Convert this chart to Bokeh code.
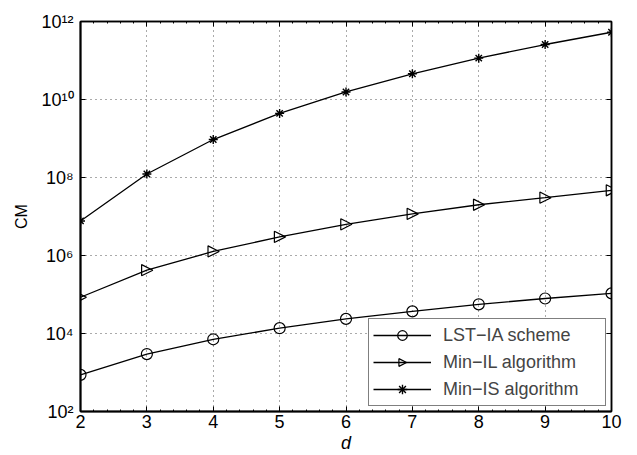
from bokeh.plotting import figure
from bokeh.models import (Range1d, FixedTicker, SingleIntervalTicker, CustomJSTickFormatter,
                          LinearAxis, LogAxis, CustomJS)
from bokeh.core.properties import value
from bokeh.embed import file_html
from bokeh.resources import INLINE

# ---- data ----
d = [2, 3, 4, 5, 6, 7, 8, 9, 10]
lst_ia = [870, 2970, 7100, 13700, 23700, 37000, 56000, 79000, 107000]
min_il = [8.5e4, 4.2e5, 1.27e6, 3.0e6, 6.3e6, 1.17e7, 2.0e7, 3.04e7, 4.7e7]
min_is = [7.7e6, 1.23e8, 9.4e8, 4.4e9, 1.56e10, 4.56e10, 1.15e11, 2.57e11, 5.3e11]
y_ticks = [1e2, 1e4, 1e6, 1e8, 1e10, 1e12]
labels = ["LST\u2212IA scheme", "Min\u2212IL algorithm", "Min\u2212IS algorithm"]

FONT = "Liberation Sans"

p = figure(width=637, height=455, output_backend="svg", toolbar_location=None,
           y_axis_type="log", x_range=Range1d(2, 10), y_range=Range1d(1e2, 1e12),
           min_border_left=80, min_border_right=26, min_border_top=21, min_border_bottom=44)
p.outline_line_color = "black"
p.outline_line_width = 1.5

sup_js = """
const sup = {"0":"\u2070","1":"\u00b9","2":"\u00b2","3":"\u00b3","4":"\u2074","5":"\u2075","6":"\u2076","7":"\u2077","8":"\u2078","9":"\u2079"};
const e = Math.round(Math.log10(tick));
return "10" + String(e).split("").map(c => sup[c]).join("");
"""

xt = SingleIntervalTicker(interval=1, num_minor_ticks=5)
yt = FixedTicker(ticks=y_ticks, minor_ticks=[])

xa = p.xaxis[0]
xa.ticker = xt
xa.axis_label = "d"
xa.axis_label_text_font_style = "italic"
xa.axis_label_text_font = FONT
xa.axis_label_text_font_size = "18px"
xa.axis_label_standoff = 2
xa.major_label_text_font = FONT
xa.major_label_text_font_size = "18px"
xa.major_label_standoff = 3

ya = p.yaxis[0]
ya.ticker = yt
ya.formatter = CustomJSTickFormatter(code=sup_js)
ya.axis_label = "CM"
ya.axis_label_text_font = FONT
ya.axis_label_text_font_style = "normal"
ya.axis_label_text_font_size = "16px"
ya.axis_label_standoff = 8
ya.major_label_text_font = FONT
ya.major_label_text_font_size = "18px"
ya.major_label_standoff = 7

for ax in (xa, ya):
    ax.axis_line_width = 2
    ax.axis_line_color = "black"
    ax.major_tick_in = 5
    ax.major_tick_out = 0
    ax.minor_tick_in = 2
    ax.minor_tick_out = 0
    ax.major_tick_line_color = "black"
    ax.minor_tick_line_color = "black"
    ax.major_label_text_color = "black"
    ax.axis_label_text_color = "black"

blank = CustomJSTickFormatter(code="return '';")
top = LinearAxis(ticker=xt, formatter=blank, major_label_standoff=0,
                 major_tick_in=5, major_tick_out=0, minor_tick_in=2, minor_tick_out=0,
                 axis_line_width=1.5)
right = LogAxis(ticker=yt, formatter=blank, major_label_standoff=0,
                major_tick_in=5, major_tick_out=0, minor_tick_in=0, minor_tick_out=0,
                axis_line_width=1.5)
p.add_layout(top, "above")
p.add_layout(right, "right")

for g in (p.xgrid[0], p.ygrid[0]):
    g.grid_line_color = "#555555"
    g.grid_line_dash = "1 4"
    g.grid_line_width = 1
p.xgrid[0].ticker = xt
p.ygrid[0].ticker = yt

# right-pointing triangle marker (MATLAB '>')
tri_right = CustomJS(code="""
const {ctx, i, r, visuals} = cb_data;
ctx.moveTo(0.85 * r, 0);
ctx.lineTo(-0.75 * r, -0.8 * r);
ctx.lineTo(-0.75 * r, 0.8 * r);
ctx.closePath();
visuals.fill.apply(ctx, i);
visuals.line.apply(ctx, i);
""")

p.line(d, lst_ia, line_color="black", line_width=1.3, legend_label=labels[0])
p.scatter(d, lst_ia, marker="circle", size=11, fill_color=None, line_color="black",
          line_width=1.2, legend_label=labels[0])
p.line(d, min_il, line_color="black", line_width=1.3, legend_label=labels[1])
p.scatter(d, min_il, marker=value("@tri_right"), defs={"@tri_right": tri_right}, size=14,
          fill_color=None, line_color="black", line_width=1.2, legend_label=labels[1])
p.line(d, min_is, line_color="black", line_width=1.3, legend_label=labels[2])
p.scatter(d, min_is, marker="asterisk", size=9, line_color="black", line_width=1.4,
          legend_label=labels[2])

lg = p.legend[0]
lg.location = "bottom_right"
lg.margin = 5
lg.padding = 4
lg.spacing = 3
lg.glyph_width = 58
lg.glyph_height = 24
lg.label_height = 24
lg.label_width = 158
lg.label_standoff = 12
lg.label_text_font = FONT
lg.label_text_font_size = "18px"
lg.border_line_color = "black"
lg.border_line_width = 1
lg.background_fill_color = "white"
lg.background_fill_alpha = 1

open("out.html", "w").write(file_html(p, INLINE))
